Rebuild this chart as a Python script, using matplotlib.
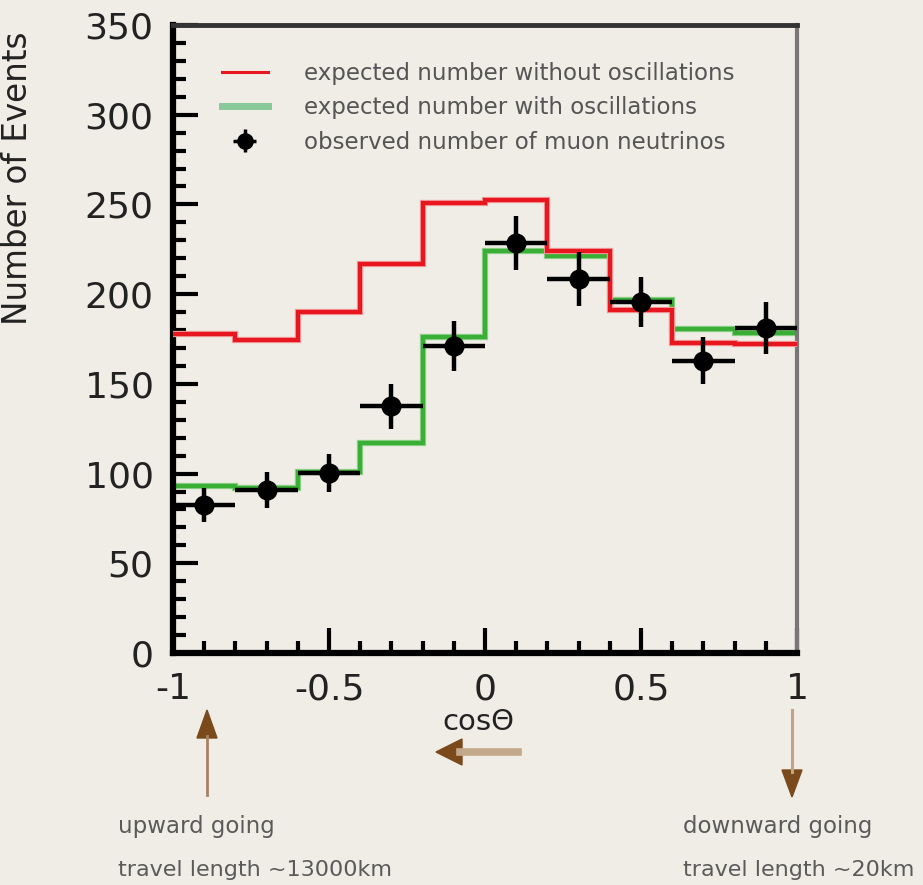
import matplotlib
matplotlib.use("Agg")
import matplotlib.pyplot as plt
import numpy as np
from matplotlib.lines import Line2D
from matplotlib.patches import Polygon

# ---- data ----
edges = [-1.0, -0.8, -0.6, -0.4, -0.2, 0.0, 0.2, 0.4, 0.6, 0.8, 1.0]
no_osc = [178, 174.5, 190, 217, 251, 252.5, 224, 191, 173, 172]
with_osc = [93, 92, 101, 117, 176, 224, 221, 197, 180.5, 178.5]
obs_x = [-0.9, -0.7, -0.5, -0.3, -0.1, 0.1, 0.3, 0.5, 0.7, 0.9]
obs_y = [82.5, 91, 100.5, 137.5, 171, 228.5, 208.5, 195.5, 163, 181]
obs_err = [9.5, 10, 10.5, 12.5, 14, 15, 15, 14, 13, 14.5]
obs_xerr = [0.1] * 10
xticks = [-1, -0.5, 0, 0.5, 1]
xticklabels = ["-1", "-0.5", "0", "0.5", "1"]
yticks = [0, 50, 100, 150, 200, 250, 300, 350]

W, H = 923, 885
bg = "#efede5"
fig = plt.figure(figsize=(W / 100, H / 100), dpi=100, facecolor=bg)
L, R, T, B = 173, 797, 25, 653
ax = fig.add_axes([L / W, 1 - B / H, (R - L) / W, (B - T) / H], facecolor=bg)

red = "#e8161e"
green = "#3aaf35"

ax.stairs(with_osc, edges, baseline=None, color="#8fd08a", lw=4.5, zorder=2)
ax.stairs(with_osc, edges, baseline=None, color=green, lw=3.0, zorder=2.1)
ax.stairs(no_osc, edges, baseline=None, color="#f39a9c", lw=4.5, zorder=3)
ax.stairs(no_osc, edges, baseline=None, color=red, lw=3.0, zorder=3.1)
ax.errorbar(obs_x, obs_y, yerr=obs_err, xerr=obs_xerr, fmt="o", color="black",
            ms=13.5, elinewidth=3.2, capsize=0, zorder=5, clip_on=False)

ax.set_xlim(-1, 1)
ax.set_ylim(0, 350)
ax.set_xticks(xticks)
ax.set_xticklabels(xticklabels)
ax.set_yticks(yticks)
ax.set_xticks(np.arange(-1, 1.0001, 0.1), minor=True)
ax.set_yticks(np.arange(0, 351, 10), minor=True)

ax.tick_params(axis="both", which="major", direction="in", length=18, width=3,
               labelsize=26, labelcolor="#222222", pad=14, color="black")
ax.tick_params(axis="both", which="minor", direction="in", length=9, width=3,
               color="black")
ax.tick_params(top=False, right=False, which="both")

for s in ["left", "bottom"]:
    ax.spines[s].set_linewidth(4.5)
    ax.spines[s].set_color("black")
ax.spines["top"].set_linewidth(3.5)
ax.spines["top"].set_color("#333333")
ax.spines["right"].set_linewidth(3)
ax.spines["right"].set_color("#777777")

ax.set_ylabel("Number of Events", fontsize=23.5, color="#222222")
ax.yaxis.set_label_coords(-0.222, 0.756)

# legend
h_red = Line2D([], [], color=red, lw=2.2)
h_green = Line2D([], [], color="#88c99a", lw=5)
h_obs = ax.errorbar([], [], yerr=[], xerr=[], fmt="o", color="black", ms=11,
                    elinewidth=2.5, capsize=0)
leg = ax.legend([h_red, h_green, h_obs],
                ["expected number without oscillations",
                 "expected number with oscillations",
                 "observed number of muon neutrinos"],
                loc="upper left", bbox_to_anchor=((222 - L) / (R - L), (B - 62) / (B - T)),
                frameon=False, fontsize=16.5, handlelength=2.0, handletextpad=1.6,
                labelspacing=0.5, borderpad=0, borderaxespad=0)
for t in leg.get_texts():
    t.set_color("#555555")

def fx(x):
    return x / W

def fy(y):
    return 1 - y / H

# x label
fig.text(fx(478), fy(722), "cosΘ", fontsize=21, color="#222222", ha="center", va="center")

head = "#7a4a1c"
# up arrow
fig.add_artist(Line2D([fx(207), fx(207)], [fy(736), fy(795)], color="#a88260", lw=2))
fig.add_artist(Polygon([[fx(207), fy(710)], [fx(197), fy(738)], [fx(217), fy(738)]],
                       closed=True, color=head, transform=fig.transFigure))
# left arrow
fig.add_artist(Line2D([fx(460), fx(518)], [fy(752), fy(752)], color="#c4a88c", lw=5.5))
fig.add_artist(Polygon([[fx(436), fy(752)], [fx(462), fy(739)], [fx(462), fy(765)]],
                       closed=True, color=head, transform=fig.transFigure))
# down arrow
fig.add_artist(Line2D([fx(792), fx(792)], [fy(710), fy(772)], color="#c2a484", lw=2.2))
fig.add_artist(Polygon([[fx(792), fy(797)], [fx(782), fy(770)], [fx(802), fy(770)]],
                       closed=True, color=head, transform=fig.transFigure))

gray = "#5a5a5a"
fig.text(fx(118), fy(827), "upward going", fontsize=16.5, color=gray, ha="left", va="center")
fig.text(fx(118), fy(870), "travel length ~13000km", fontsize=16, color=gray, ha="left", va="center")
fig.text(fx(683), fy(827), "downward going", fontsize=16.5, color=gray, ha="left", va="center")
fig.text(fx(683), fy(870), "travel length ~20km", fontsize=16, color=gray, ha="left", va="center")

fig.savefig("out.png", dpi=100, facecolor=bg)
